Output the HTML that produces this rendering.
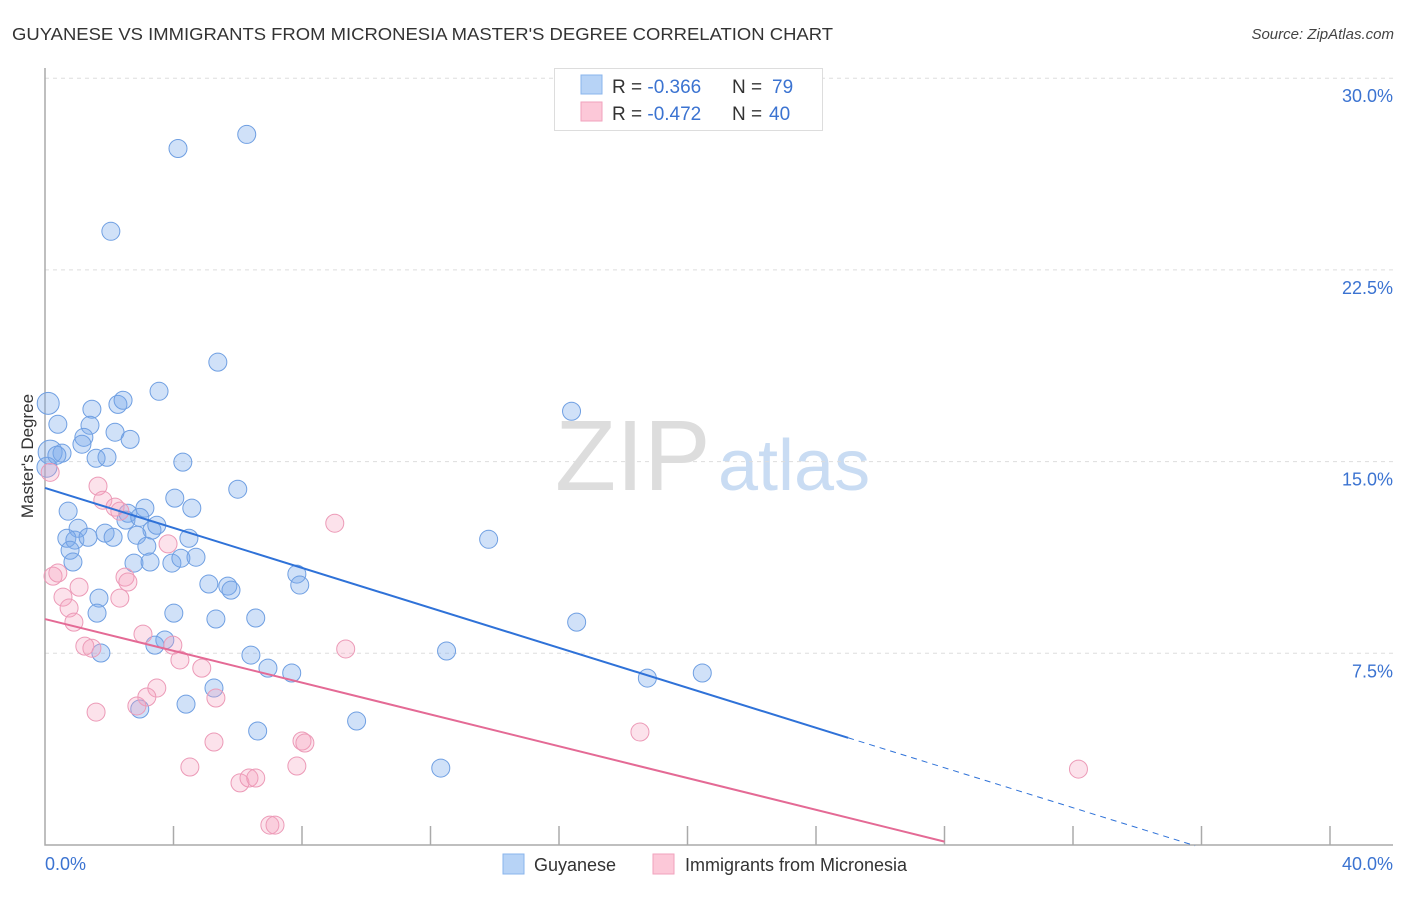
<!DOCTYPE html>
<html><head><meta charset="utf-8"><style>
body{margin:0;background:#fff;font-family:"Liberation Sans",sans-serif;}
svg text{font-family:"Liberation Sans",sans-serif;}
</style></head><body>
<svg id="chart" width="1406" height="892" xmlns="http://www.w3.org/2000/svg">
<text x="12" y="40" font-size="17.5" fill="#333" textLength="821" lengthAdjust="spacingAndGlyphs">GUYANESE VS IMMIGRANTS FROM MICRONESIA MASTER'S DEGREE CORRELATION CHART</text>
<text x="1394" y="39" font-size="15" fill="#444" font-style="italic" text-anchor="end">Source: ZipAtlas.com</text>
<g>
<text x="555" y="490" font-size="100" fill="#ddd" font-family="Liberation Serif">ZIP</text>
<text x="718" y="490" font-size="72" fill="#c9dcf3">atlas</text>
</g>
<g id="grid"></g>
<g id="axes"></g>
<g id="pts"></g>
<g id="lines"></g>
<text x="33" y="456" font-size="17" fill="#333" text-anchor="middle" transform="rotate(-90 33 456)">Master's Degree</text>
<g>
<rect x="554.5" y="68.5" width="268" height="62" fill="#fff" stroke="#ddd"/>
<rect x="581" y="75" width="21" height="19" fill="#b7d3f6" stroke="#8ab4ec"/>
<rect x="581" y="102" width="21" height="19" fill="#fcc8d8" stroke="#f1a2bd"/>
<text x="612" y="93" font-size="19" fill="#333">R = <tspan fill="#3b73d1">-0.366</tspan></text>
<text x="732" y="93" font-size="19" fill="#333">N = <tspan x="772" fill="#3b73d1">79</tspan></text>
<text x="612" y="120" font-size="19" fill="#333">R = <tspan fill="#3b73d1">-0.472</tspan></text>
<text x="732" y="120" font-size="19" fill="#333">N = <tspan x="769" fill="#3b73d1">40</tspan></text>
</g>
<g>
<rect x="503" y="854" width="21" height="20" fill="#b7d3f6" stroke="#8ab4ec"/>
<text x="534" y="871" font-size="18" fill="#333">Guyanese</text>
<rect x="653" y="854" width="21" height="20" fill="#fcc8d8" stroke="#f1a2bd"/>
<text x="685" y="871" font-size="18" fill="#333">Immigrants from Micronesia</text>
</g>
</svg>
<script>
const blueX=[0.1,0.16,0.06,0.40,0.53,0.37,1.46,1.40,1.21,1.15,1.59,1.93,2.27,2.43,2.18,2.65,3.55,5.38,2.05,4.14,6.28,16.39,4.29,6.00,4.04,4.57,3.11,2.58,2.52,2.95,3.33,3.48,0.72,1.03,0.68,0.93,1.34,0.78,0.87,1.87,2.12,2.86,3.17,2.77,3.27,3.95,4.23,4.70,4.48,5.10,5.69,5.79,7.84,7.93,13.81,1.68,1.62,4.01,5.32,6.56,16.55,3.73,3.42,1.74,6.41,6.94,7.68,12.50,18.75,20.46,5.26,4.39,2.95,6.62,9.70,12.32];
const blueY=[17.28,15.37,14.78,16.46,15.33,15.25,17.05,16.42,15.95,15.68,15.13,15.17,17.24,17.40,16.15,15.87,17.75,18.89,24.01,27.25,27.80,16.97,14.98,13.92,13.57,13.18,13.18,12.98,12.71,12.82,12.32,12.51,13.06,12.39,12.00,11.93,12.04,11.53,11.07,12.20,12.04,12.12,11.69,11.03,11.07,11.03,11.22,11.26,12.00,10.21,10.13,9.97,10.60,10.17,11.96,9.66,9.07,9.07,8.84,8.88,8.72,8.02,7.82,7.51,7.43,6.92,6.73,7.59,6.53,6.73,6.14,5.51,5.32,4.46,4.85,3.01];
const blueR=[11,12,10,9,9,9,9,9,9,9,9,9,9,9,9,9,9,9,9,9,9,9,9,9,9,9,9,9,9,9,9,9,9,9,9,9,9,9,9,9,9,9,9,9,9,9,9,9,9,9,9,9,9,9,9,9,9,9,9,9,9,9,9,9,9,9,9,9,9,9,9,9,9,9,9,9];
const pinkX=[0.16,1.65,1.80,2.18,2.33,0.25,0.40,1.06,2.49,2.58,0.56,2.33,0.75,0.90,3.83,9.02,3.05,1.24,1.46,3.98,4.20,4.88,9.36,3.48,3.17,5.32,2.86,1.59,5.26,8.00,8.09,18.52,4.51,7.84,6.07,6.35,6.56,7.00,7.16,32.17];
const pinkY=[14.58,14.04,13.49,13.22,13.06,10.52,10.64,10.09,10.48,10.29,9.70,9.66,9.27,8.72,11.78,12.59,8.25,7.78,7.70,7.82,7.24,6.92,7.67,6.14,5.79,5.75,5.44,5.20,4.03,4.07,3.99,4.42,3.05,3.09,2.43,2.62,2.62,0.78,0.78,2.97];
const yTicks=[7.5,15,22.5,30];
const yTickLabels=["7.5%","15.0%","22.5%","30.0%"];
const xTicks=[0,4,8,12,16,20,24,28,32,36,40];
const xTickLabels=["0.0%","40.0%"];
const blueTrend=[13.97,-0.391,25.0,35.8];
const pinkTrend=[8.84,-0.311,28.0];

const NS="http://www.w3.org/2000/svg";
const X=v=>45+v/40*1285;
const Y=v=>845-v/7.5*191.7;
function mk(tag,attrs,parent){const e=document.createElementNS(NS,tag);for(const k in attrs)e.setAttribute(k,attrs[k]);document.getElementById(parent).appendChild(e);return e;}
yTicks.forEach((t,i)=>{
 const g=mk('line',{x1:45,x2:1393,y1:Y(t),y2:Y(t),stroke:'#ddd','stroke-dasharray':'4,4'},'grid');
 
 
 const l=mk('text',{x:1393,y:Y(t)+24,'font-size':18,fill:'#3b73d1','text-anchor':'end'},'grid');
 l.textContent=yTickLabels[i];
 
 
});
const ax=mk('path',{d:'M45,68V845H1393',fill:'none',stroke:'#aaa','stroke-width':1.5},'axes');


xTicks.slice(1).forEach(t=>{
 const tk=mk('line',{x1:X(t),x2:X(t),y1:826,y2:845,stroke:'#aaa','stroke-width':1.5},'axes');
 
 
});
const xl0=mk('text',{x:45,y:870,'font-size':18,fill:'#3b73d1'},'axes');xl0.textContent=xTickLabels[0];


const xl1=mk('text',{x:1393,y:870,'font-size':18,fill:'#3b73d1','text-anchor':'end'},'axes');xl1.textContent=xTickLabels[1];


blueX.forEach((v,i)=>{
 const c=mk('circle',{cx:X(v),cy:Y(blueY[i]),r:blueR[i],fill:'rgba(120,170,235,0.35)',stroke:'#6f9fe2','stroke-width':1},'pts');
 
 
});
pinkX.forEach((v,i)=>{
 const c=mk('circle',{cx:X(v),cy:Y(pinkY[i]),r:9,fill:'rgba(245,160,190,0.3)',stroke:'#ec9ab7','stroke-width':1},'pts');
 
 
});
const bl=mk('line',{x1:X(0),y1:Y(blueTrend[0]),x2:X(blueTrend[2]),y2:Y(blueTrend[0]+blueTrend[1]*blueTrend[2]),stroke:'#2f72d8','stroke-width':2},'lines');


const bd=mk('line',{x1:X(blueTrend[2]),y1:Y(blueTrend[0]+blueTrend[1]*blueTrend[2]),x2:X(blueTrend[3]),y2:Y(blueTrend[0]+blueTrend[1]*blueTrend[3]),stroke:'#2f72d8','stroke-width':1,'stroke-dasharray':'6,5'},'lines');


const pl=mk('line',{x1:X(0),y1:Y(pinkTrend[0]),x2:X(pinkTrend[2]),y2:Y(pinkTrend[0]+pinkTrend[1]*pinkTrend[2]),stroke:'#e46a95','stroke-width':2},'lines');


</script>
</body></html>
